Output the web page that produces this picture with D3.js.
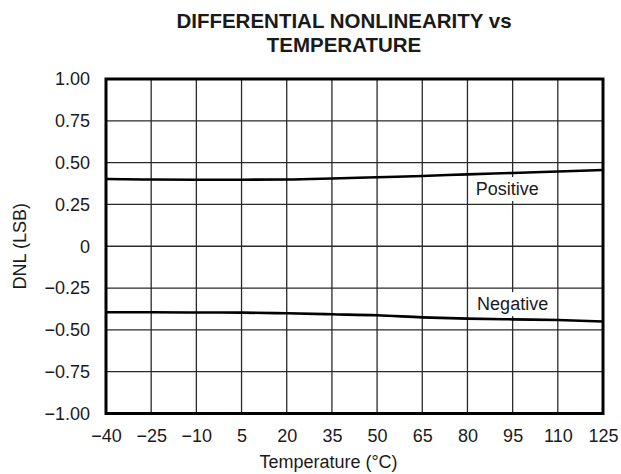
<!DOCTYPE html>
<html>
<head>
<meta charset="utf-8">
<script src="https://cdn.jsdelivr.net/npm/d3@7"></script>
<style>
  body { margin: 0; background: #fff; }
  text { font-family: "Liberation Sans", Arial, Helvetica, sans-serif; fill: #1a1a1a; }
</style>
</head>
<body>
<svg id="chart" width="621" height="474"></svg>
<script>
const titleLines = ["DIFFERENTIAL NONLINEARITY vs", "TEMPERATURE"];
const xLabel = "Temperature (°C)";
const yLabel = "DNL (LSB)";
const xTicks = [-40, -25, -10, 5, 20, 35, 50, 65, 80, 95, 110, 125];
const yTicks = [1.00, 0.75, 0.50, 0.25, 0, -0.25, -0.50, -0.75, -1.00];
const yTickLabels = ["1.00", "0.75", "0.50", "0.25", "0", "\u22120.25", "\u22120.50", "\u22120.75", "\u22121.00"];
const temps = [-40, -25, -10, 5, 20, 35, 50, 65, 80, 95, 110, 125];
const positive = [0.402, 0.399, 0.398, 0.398, 0.399, 0.405, 0.413, 0.420, 0.430, 0.438, 0.447, 0.456];
const negative = [-0.395, -0.395, -0.396, -0.397, -0.401, -0.407, -0.413, -0.425, -0.433, -0.437, -0.441, -0.450];
const seriesLabels = [
  { text: "Positive", t: 93.2, v: 0.306 },
  { text: "Negative", t: 95, v: -0.382 }
];

const svg = d3.select("#chart");
const m = { left: 106, right: 603, top: 79, bottom: 413.5 };
const x = d3.scaleLinear().domain([-40, 125]).range([m.left, m.right]);
const y = d3.scaleLinear().domain([-1, 1]).range([m.bottom, m.top]);

// title
svg.selectAll("text.title").data(titleLines).enter().append("text")
  .attr("class", "title")
  .attr("x", 344).attr("y", (d, i) => 28 + i * 24)
  .attr("text-anchor", "middle")
  .style("font-size", "20.5px").style("font-weight", "bold")
  .text(d => d);

// grid
const g = svg.append("g");
g.selectAll("line.vg").data(xTicks).enter().append("line")
  .attr("x1", d => x(d)).attr("x2", d => x(d))
  .attr("y1", m.top).attr("y2", m.bottom)
  .attr("stroke", "#2a2a2a").attr("stroke-width", 1.3);
g.selectAll("line.hg").data(yTicks).enter().append("line")
  .attr("y1", d => y(d)).attr("y2", d => y(d))
  .attr("x1", m.left).attr("x2", m.right)
  .attr("stroke", "#2a2a2a").attr("stroke-width", 1.3);

// axes labels
const xAxis = d3.axisBottom(x).tickValues(xTicks).tickSize(0).tickPadding(16)
  .tickFormat(d => d < 0 ? "\u2212" + Math.abs(d) : String(d));
const xa = svg.append("g").attr("transform", `translate(0,${m.bottom})`).call(xAxis);
xa.select(".domain").remove();
xa.selectAll("text").style("font-size", "18px").attr("fill", "#1a1a1a")
  .style("font-family", "'Liberation Sans', Arial, sans-serif");

const yAxis = d3.axisLeft(y).tickValues(yTicks).tickSize(0).tickPadding(16)
  .tickFormat((d, i) => yTickLabels[i]);
const ya = svg.append("g").attr("transform", `translate(${m.left},0)`).call(yAxis);
ya.select(".domain").remove();
ya.selectAll("text").style("font-size", "18px").attr("fill", "#1a1a1a")
  .style("font-family", "'Liberation Sans', Arial, sans-serif");

svg.append("text").attr("x", (m.left + m.right) / 2 - 26).attr("y", 468)
  .attr("text-anchor", "middle").style("font-size", "18px").text(xLabel);
svg.append("text").attr("transform", `translate(26,${(m.top + m.bottom) / 2}) rotate(-90)`)
  .attr("text-anchor", "middle").style("font-size", "18px").text(yLabel);

// series labels with white backgrounds
seriesLabels.forEach(l => {
  const t = svg.append("text").attr("x", x(l.t)).attr("y", y(l.v))
    .attr("text-anchor", "middle").style("font-size", "18px").text(l.text);
  const bb = t.node().getBBox();
  svg.insert("rect", () => t.node())
    .attr("x", bb.x - 4).attr("y", bb.y - 2).attr("width", bb.width + 8).attr("height", bb.height + 4)
    .attr("fill", "#fff");
});

// curves
const line = d3.line().x((d, i) => x(temps[i])).y(d => y(d)).curve(d3.curveMonotoneX);
[positive, negative].forEach(s => {
  svg.append("path").datum(s).attr("d", line)
    .attr("fill", "none").attr("stroke", "#000").attr("stroke-width", 2.6);
});

// frame
svg.append("rect").attr("x", m.left).attr("y", m.top)
  .attr("width", m.right - m.left).attr("height", m.bottom - m.top)
  .attr("fill", "none").attr("stroke", "#000").attr("stroke-width", 3);
</script>
</body>
</html>
